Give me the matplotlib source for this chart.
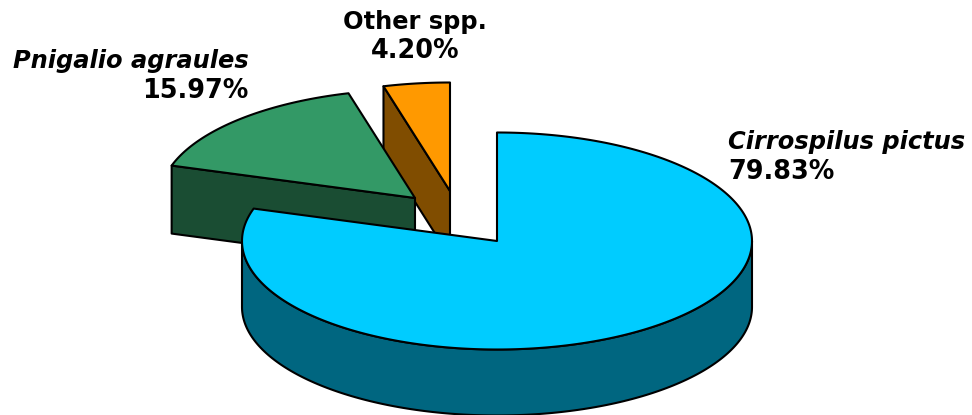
import numpy as np
import matplotlib
matplotlib.use("Agg")
import matplotlib.pyplot as plt
from matplotlib.patches import Polygon

species = ["Cirrospilus pictus", "Pnigalio agraules", "Other spp."]
shares = [79.83, 15.97, 4.20]
share_labels = ["79.83%", "15.97%", "4.20%"]

top_colors = ["#00CCFF", "#339966", "#FF9900"]
side_colors = ["#006680", "#1A4D33", "#804D00"]
centers = [(497, 241), (415, 198), (450, 191)]
RX, RY, DEPTH = 255, 108.5, 66
LW = 1.5

fig = plt.figure(figsize=(9.72, 4.15), dpi=100)
ax = fig.add_axes([0, 0, 1, 1])
ax.set_xlim(0, 972)
ax.set_ylim(415, 0)
ax.axis("off")

edges = np.concatenate([[0], np.cumsum(shares)]) / np.sum(shares) * 2 * np.pi


def rim(c, a0, a1, dy=0):
    n = max(int(np.degrees(a1 - a0)), 2)
    t = np.linspace(a0, a1, n)
    return np.column_stack([c[0] + RX * np.sin(t), c[1] - RY * np.cos(t) + dy])


def poly(pts, color, z):
    ax.add_patch(Polygon(pts, closed=True, facecolor=color, edgecolor="black",
                         linewidth=LW, joinstyle="round", zorder=z))


# Other spp.: radial side wall, then top
c = centers[2]
p = rim(c, edges[2], edges[2], 0)[0]
poly([c, p, (p[0], p[1] + DEPTH), (c[0], c[1] + DEPTH)], side_colors[2], 1)
poly(np.vstack([[c], rim(c, edges[2], edges[3])]), top_colors[2], 2)

# Pnigalio: radial side wall, then top
c = centers[1]
p = rim(c, edges[1], edges[1], 0)[0]
poly([c, p, (p[0], p[1] + DEPTH + 2), (c[0], c[1] + DEPTH + 2)], side_colors[1], 3)
poly(np.vstack([[c], rim(c, edges[1], edges[2])]), top_colors[1], 4)

# Cirrospilus: outer wall, then top
c = centers[0]
front = rim(c, np.pi / 2, 3 * np.pi / 2)
poly(np.vstack([front, front[::-1] + [0, DEPTH]]), side_colors[0], 5)
poly(np.vstack([[c], rim(c, edges[0], edges[1])]), top_colors[0], 6)

kw = dict(fontweight="bold", family="DejaVu Sans", color="black", zorder=10, va="baseline")
NAME_FS, PCT_FS = 17.4, 18.4
ax.text(728, 149, species[0], style="italic", ha="left", fontsize=NAME_FS, **kw)
ax.text(728, 179, share_labels[0], ha="left", fontsize=PCT_FS, **kw)
ax.text(249, 68, species[1], style="italic", ha="right", fontsize=NAME_FS, **kw)
ax.text(248, 98, share_labels[1], ha="right", fontsize=PCT_FS, **kw)
ax.text(415, 29, species[2], ha="center", fontsize=NAME_FS, **kw)
ax.text(415, 58, share_labels[2], ha="center", fontsize=PCT_FS, **kw)

fig.savefig("out.png", dpi=100)
